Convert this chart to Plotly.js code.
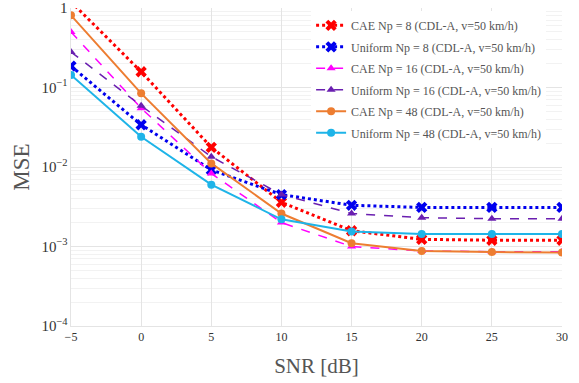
<!DOCTYPE html>
<html><head><meta charset="utf-8">
<script src="https://cdn.plot.ly/plotly-3.0.1.min.js"></script>
<style>html,body{margin:0;padding:0;background:#fff}#chart{width:579px;height:383px}</style>
</head><body><div id="chart"></div>
<script>
const snr = [-5, 0, 5, 10, 15, 20, 25, 30];
const snrLabels = ['−5','0','5','10','15','20','25','30'];
const caeNp8 = [1.2, 0.158, 0.0177, 0.0036, 0.00158, 0.00123, 0.0012, 0.0012];
const uniNp8 = [0.186, 0.034, 0.0092, 0.0045, 0.0033, 0.0031, 0.0031, 0.0031];
const caeNp16 = [0.50, 0.055, 0.0083, 0.0020, 0.0010, 0.00088, 0.00086, 0.00086];
const uniNp16 = [0.28, 0.059, 0.0135, 0.0045, 0.0026, 0.0023, 0.00224, 0.00224];
const caeNp48 = [0.81, 0.0845, 0.0111, 0.0026, 0.0011, 0.00088, 0.00085, 0.00084];
const uniNp48 = [0.144, 0.024, 0.006, 0.0022, 0.00154, 0.00144, 0.00144, 0.00144];
const names = [
  'CAE Np = 8 (CDL-A, v=50 km/h)',
  'Uniform Np = 8 (CDL-A, v=50 km/h)',
  'CAE Np = 16 (CDL-A, v=50 km/h)',
  'Uniform Np = 16 (CDL-A, v=50 km/h)',
  'CAE Np = 48 (CDL-A, v=50 km/h)',
  'Uniform Np = 48 (CDL-A, v=50 km/h)'
];
const series = [caeNp8, uniNp8, caeNp16, uniNp16, caeNp48, uniNp48];
const styles = [
  {c:'#ff0000', dash:'dot', w:3, sym:'x', s:10},
  {c:'#0000ee', dash:'dot', w:3, sym:'x', s:10},
  {c:'#ff00ff', dash:'dash', w:1.5, sym:'triangle-up', s:8},
  {c:'#6a1fb0', dash:'dash', w:1.5, sym:'triangle-up', s:8},
  {c:'#ed7d31', dash:'solid', w:2, sym:'circle', s:8},
  {c:'#1eb4e8', dash:'solid', w:2, sym:'circle', s:8}
];
const traces = series.map((y,i)=>({
  x: snr, y: y, name: names[i], type:'scatter', mode:'lines+markers',
  legendgroup:'g'+i,
  line:{color:styles[i].c, dash:styles[i].dash, width:styles[i].w},
  marker:{color:styles[i].c, symbol:styles[i].sym, size:styles[i].s}
}));
const font = 'Liberation Serif, Times New Roman, serif';
const layout = {
  width:579, height:383,
  margin:{l:71, r:17, t:8, b:57},
  paper_bgcolor:'#fff', plot_bgcolor:'#fff',
  font:{family:font, color:'#444', size:12},
  showlegend:true,
  legend:{x:0.489, y:0.991, xanchor:'left', yanchor:'top', bgcolor:'#fff',
    font:{family:font, size:12, color:'#555'}, tracegroupgap:2.5, itemwidth:30},
  xaxis:{
    title:{text:'SNR [dB]', font:{family:font, size:21, color:'#555'}, standoff:14},
    range:[-5,30], tickvals:snr, ticktext:snrLabels,
    showgrid:true, gridcolor:'#e4e4e4', zeroline:false,
    showline:true, linecolor:'#e4e4e4', ticks:'', tickfont:{size:12, color:'#333'}
  },
  yaxis:{
    title:{text:'MSE', font:{family:font, size:23, color:'#555'}, standoff:5},
    type:'log', range:[-4,0.0005], dtick:1, exponentformat:'power',
    showgrid:true, gridcolor:'#e4e4e4', zeroline:false,
    showline:true, linecolor:'#e4e4e4', ticks:'',
    minor:{showgrid:true, gridcolor:'#f2f2f2', dtick:'D1'},
    tickfont:{size:12, color:'#333'}
  }
};
Plotly.newPlot('chart', traces, layout, {staticPlot:true, displayModeBar:false});
</script></body></html>
